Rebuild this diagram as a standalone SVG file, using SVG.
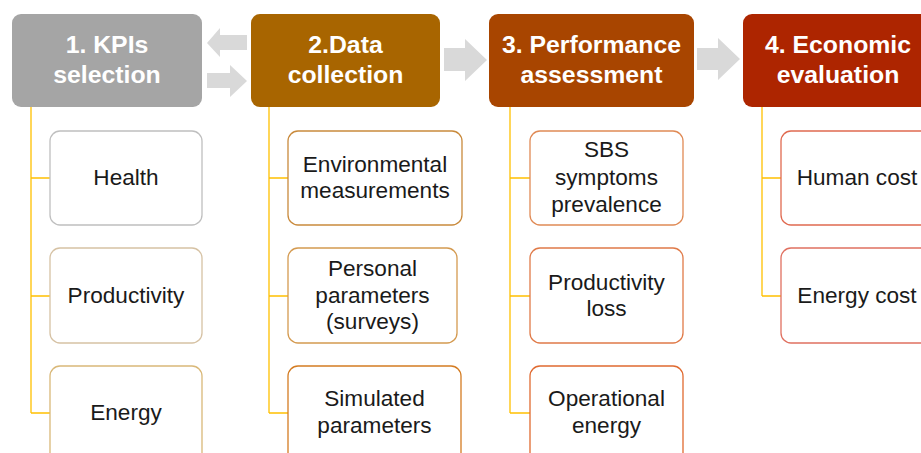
<svg xmlns="http://www.w3.org/2000/svg" width="921" height="453" viewBox="0 0 921 453">
<style>
.hdr{font-family:"Liberation Sans",Arial,sans-serif;font-weight:bold;font-size:24.8px;fill:#ffffff;text-anchor:middle}
.lbl{font-family:"Liberation Sans",Arial,sans-serif;font-size:22.6px;fill:#1a1a1a;text-anchor:middle}
.sub{fill:#ffffff;stroke-width:1.3}
.conn{fill:none;stroke:#FFC000;stroke-width:1.3}
.arr{fill:#D9D9D9}
</style>
<rect width="921" height="453" fill="#ffffff"/>
<g id="connectors">
<path class="conn" d="M31,107 V413 M31,178 H50 M31,296 H50 M31,413 H50"/>
<path class="conn" d="M269,107 V413 M269,178 H288 M269,296 H288 M269,413 H288"/>
<path class="conn" d="M510,107 V413 M510,178 H530 M510,296 H530 M510,413 H530"/>
<path class="conn" d="M762,107 V296 M762,178 H781 M762,296 H781"/>
<polygon class="arr" points="247,35 220,35 220,28 207,43 220,57 220,50 247,50"/>
<polygon class="arr" points="207,73 230,73 230,65 247,81 230,97 230,88 207,88"/>
<polygon class="arr" points="444,48 465,48 465,39 487,60 465,81 465,71 444,71"/>
<polygon class="arr" points="697,48 718,48 718,38 740,59 718,80 718,70 697,70"/>
</g>
<g id="h1">
<rect x="12" y="14" width="190" height="93" rx="9" fill="#A5A5A5"/>
<text class="hdr" x="107" y="53">1. KPIs</text>
<text class="hdr" x="107" y="83">selection</text>
</g>
<g id="h2">
<rect x="251" y="14" width="189" height="93" rx="9" fill="#A86500"/>
<text class="hdr" x="345.5" y="53">2.Data</text>
<text class="hdr" x="345.5" y="83">collection</text>
</g>
<g id="h3">
<rect x="489" y="14" width="205" height="93" rx="9" fill="#A84500"/>
<text class="hdr" x="591.5" y="53">3. Performance</text>
<text class="hdr" x="591.5" y="83">assessment</text>
</g>
<g id="h4">
<rect x="743" y="14" width="200" height="93" rx="9" fill="#AD2500"/>
<text class="hdr" x="838" y="53">4. Economic</text>
<text class="hdr" x="838" y="83">evaluation</text>
</g>
<g id="health">
<rect class="sub" x="50" y="131" width="152" height="94" rx="10" stroke="#BFBFBF"/>
<text class="lbl" x="126" y="185">Health</text>
</g>
<g id="productivity">
<rect class="sub" x="50" y="248" width="152" height="95" rx="10" stroke="#D6C2A4"/>
<text class="lbl" x="126" y="303">Productivity</text>
</g>
<g id="energy">
<rect class="sub" x="50" y="366" width="152" height="100" rx="10" stroke="#D9B878"/>
<text class="lbl" x="126" y="420">Energy</text>
</g>
<g id="env">
<rect class="sub" x="288" y="131" width="174" height="94" rx="10" stroke="#C98A3C"/>
<text class="lbl" x="375" y="172">Environmental</text>
<text class="lbl" x="375" y="198">measurements</text>
</g>
<g id="personal">
<rect class="sub" x="288" y="248" width="169" height="95" rx="10" stroke="#D49A50"/>
<text class="lbl" x="372.5" y="276">Personal</text>
<text class="lbl" x="372.5" y="303">parameters</text>
<text class="lbl" x="372.5" y="329">(surveys)</text>
</g>
<g id="simulated">
<rect class="sub" x="288" y="366" width="173" height="100" rx="10" stroke="#D47C22"/>
<text class="lbl" x="374.5" y="406">Simulated</text>
<text class="lbl" x="374.5" y="433">parameters</text>
</g>
<g id="sbs">
<rect class="sub" x="530" y="131" width="153" height="94" rx="10" stroke="#E08A55"/>
<text class="lbl" x="606.5" y="157">SBS</text>
<text class="lbl" x="606.5" y="185">symptoms</text>
<text class="lbl" x="606.5" y="212">prevalence</text>
</g>
<g id="prodloss">
<rect class="sub" x="530" y="248" width="153" height="95" rx="10" stroke="#E07A48"/>
<text class="lbl" x="606.5" y="290">Productivity</text>
<text class="lbl" x="606.5" y="316">loss</text>
</g>
<g id="openergy">
<rect class="sub" x="530" y="366" width="153" height="100" rx="10" stroke="#E06A30"/>
<text class="lbl" x="606.5" y="406">Operational</text>
<text class="lbl" x="606.5" y="433">energy</text>
</g>
<g id="human">
<rect class="sub" x="781" y="131" width="160" height="94" rx="10" stroke="#E06A50"/>
<text class="lbl" x="857" y="185">Human cost</text>
</g>
<g id="energycost">
<rect class="sub" x="781" y="248" width="160" height="95" rx="10" stroke="#E07060"/>
<text class="lbl" x="857" y="303">Energy cost</text>
</g>
</svg>
